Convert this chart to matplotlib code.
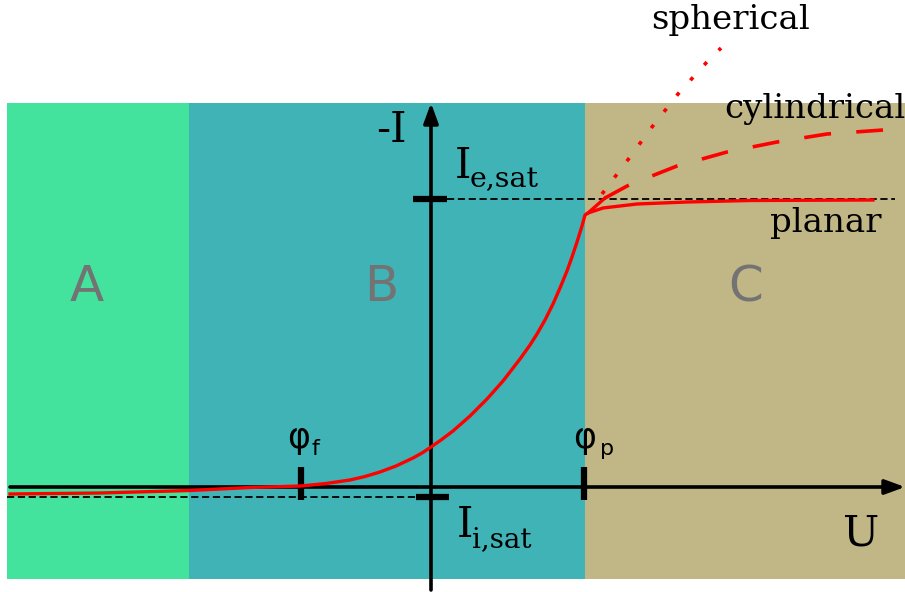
import matplotlib
matplotlib.use("Agg")
import matplotlib.pyplot as plt
from matplotlib.patches import Rectangle

# Langmuir probe characteristic, U in arbitrary units, -I in arbitrary units
phi_f = -1.30
phi_p = 1.53
ie_sat = 2.88
ii_sat = -0.095

# region edges (A, B, C) along U and the vertical extent of the bands
region_names = ["A", "B", "C"]
region_edges = [-4.24, -2.42, 1.54, 4.74]
region_label_u = [-3.44, -0.50, 3.15]
region_colors = ["#44e39d", "#40b3b7", "#c1b685"]
band_bottom, band_top = -0.92, 3.84

# measured (planar) curve
u_planar = [-4.21, -3.31, -2.41, -1.81, -1.30, -1.05, -0.81, -0.66, -0.51,
            -0.35, -0.18, -0.09, 0.00, 0.10, 0.22, 0.39, 0.56, 0.72, 0.89,
            0.99, 1.06, 1.14, 1.22, 1.29, 1.36, 1.41, 1.46, 1.51, 1.54, 1.57,
            1.72, 2.06, 2.56, 3.19, 4.42]
i_planar = [-0.07, -0.06, -0.035, -0.005, 0.01, 0.035, 0.07, 0.105, 0.15,
            0.21, 0.29, 0.34, 0.40, 0.47, 0.56, 0.71, 0.88, 1.06, 1.28,
            1.42, 1.53, 1.67, 1.83, 1.99, 2.16, 2.30, 2.45, 2.61, 2.72, 2.74,
            2.79, 2.83, 2.85, 2.865, 2.87]

# short branch where the other probe geometries split off
u_branch = [1.57, 1.74]
i_branch = [2.74, 2.89]

u_cyl = [1.74, 1.98, 2.46, 2.96, 3.46, 3.96, 4.52]
i_cyl = [2.89, 3.02, 3.21, 3.35, 3.45, 3.53, 3.57]

u_sph = [1.71, 1.96, 2.21, 2.47, 2.75, 2.90]
i_sph = [2.93, 3.26, 3.60, 3.93, 4.24, 4.39]

fig = plt.figure(figsize=(9.05, 5.92), dpi=100)
ax = fig.add_axes([0, 0, 1, 1])
ax.set_xlim(-4.31, 4.74)
ax.set_ylim(-1.05, 4.87)
ax.axis("off")

serif = "DejaVu Serif"
sans = "DejaVu Sans"

for k, name in enumerate(region_names):
    ax.add_patch(Rectangle((region_edges[k], band_bottom),
                           region_edges[k + 1] - region_edges[k],
                           band_top - band_bottom,
                           facecolor=region_colors[k], lw=0, zorder=0))
    ax.text(region_label_u[k], 2.00, name, fontsize=36, family=sans,
            color="#737373", ha="center", va="center", zorder=1)

# saturation levels
ax.plot([0.16, 4.64], [ie_sat, ie_sat], color="k", lw=1.3, ls=(0, (4, 2)), zorder=2)
ax.plot([-4.24, -0.15], [ii_sat, ii_sat], color="k", lw=1.3, ls=(0, (4, 2)), zorder=2)

# axes with arrows
arrow = dict(arrowstyle="-|>,head_length=0.6,head_width=0.22", color="k",
             lw=2.6, mutation_scale=20, shrinkA=0, shrinkB=0)
ax.annotate("", xy=(4.74, 0), xytext=(-4.21, 0), arrowprops=arrow,
            annotation_clip=False, zorder=3)
ax.annotate("", xy=(0, 3.84), xytext=(0, -1.03), arrowprops=arrow,
            annotation_clip=False, zorder=3)

# tick marks
for u in (phi_f, phi_p):
    ax.plot([u, u], [-0.13, 0.20], color="k", lw=4.5, solid_capstyle="butt", zorder=3)
ax.plot([-0.18, 0.16], [ie_sat, ie_sat], color="k", lw=4.5, solid_capstyle="butt", zorder=3)
ax.plot([-0.15, 0.18], [ii_sat, ii_sat], color="k", lw=4.5, solid_capstyle="butt", zorder=3)

# curves
ax.plot(u_planar, i_planar, color="red", lw=2.4, solid_joinstyle="round", zorder=4)
ax.plot(u_branch, i_branch, color="red", lw=2.4, zorder=4)
ax.plot(u_cyl, i_cyl, color="red", lw=2.6, ls=(0, (7.5, 7)), zorder=4)
ax.plot(u_sph, i_sph, color="red", lw=2.6, ls=(0, (1.1, 4.6)), zorder=4)

# labels
ax.text(-0.55, 3.45, "-I", fontsize=30, family=serif, ha="left", va="baseline")
ax.text(0.24, 3.09, "I", fontsize=30, family=serif, ha="left", va="baseline")
ax.text(0.39, 3.00, "e,sat", fontsize=20.5, family=serif, ha="left", va="baseline")
ax.text(0.26, -0.50, "I", fontsize=30, family=serif, ha="left", va="baseline")
ax.text(0.41, -0.60, "i,sat", fontsize=20, family=serif, ha="left", va="baseline")
ax.text(-1.44, 0.39, "\u03c6", fontsize=25, family=sans, ha="left", va="baseline")
ax.text(-1.19, 0.32, "f", fontsize=16, family=sans, ha="left", va="baseline")
ax.text(1.42, 0.39, "\u03c6", fontsize=25, family=sans, ha="left", va="baseline")
ax.text(1.69, 0.32, "p", fontsize=16, family=sans, ha="left", va="baseline")
ax.text(4.12, -0.59, "U", fontsize=31, family=serif, ha="left", va="baseline")
ax.text(2.20, 4.58, "spherical", fontsize=24.5, family=serif, ha="left", va="baseline")
ax.text(2.93, 3.69, "cylindrical", fontsize=24.5, family=serif, ha="left", va="baseline")
ax.text(3.39, 2.55, "planar", fontsize=24.5, family=serif, ha="left", va="baseline")

fig.savefig("out.png", dpi=100)
